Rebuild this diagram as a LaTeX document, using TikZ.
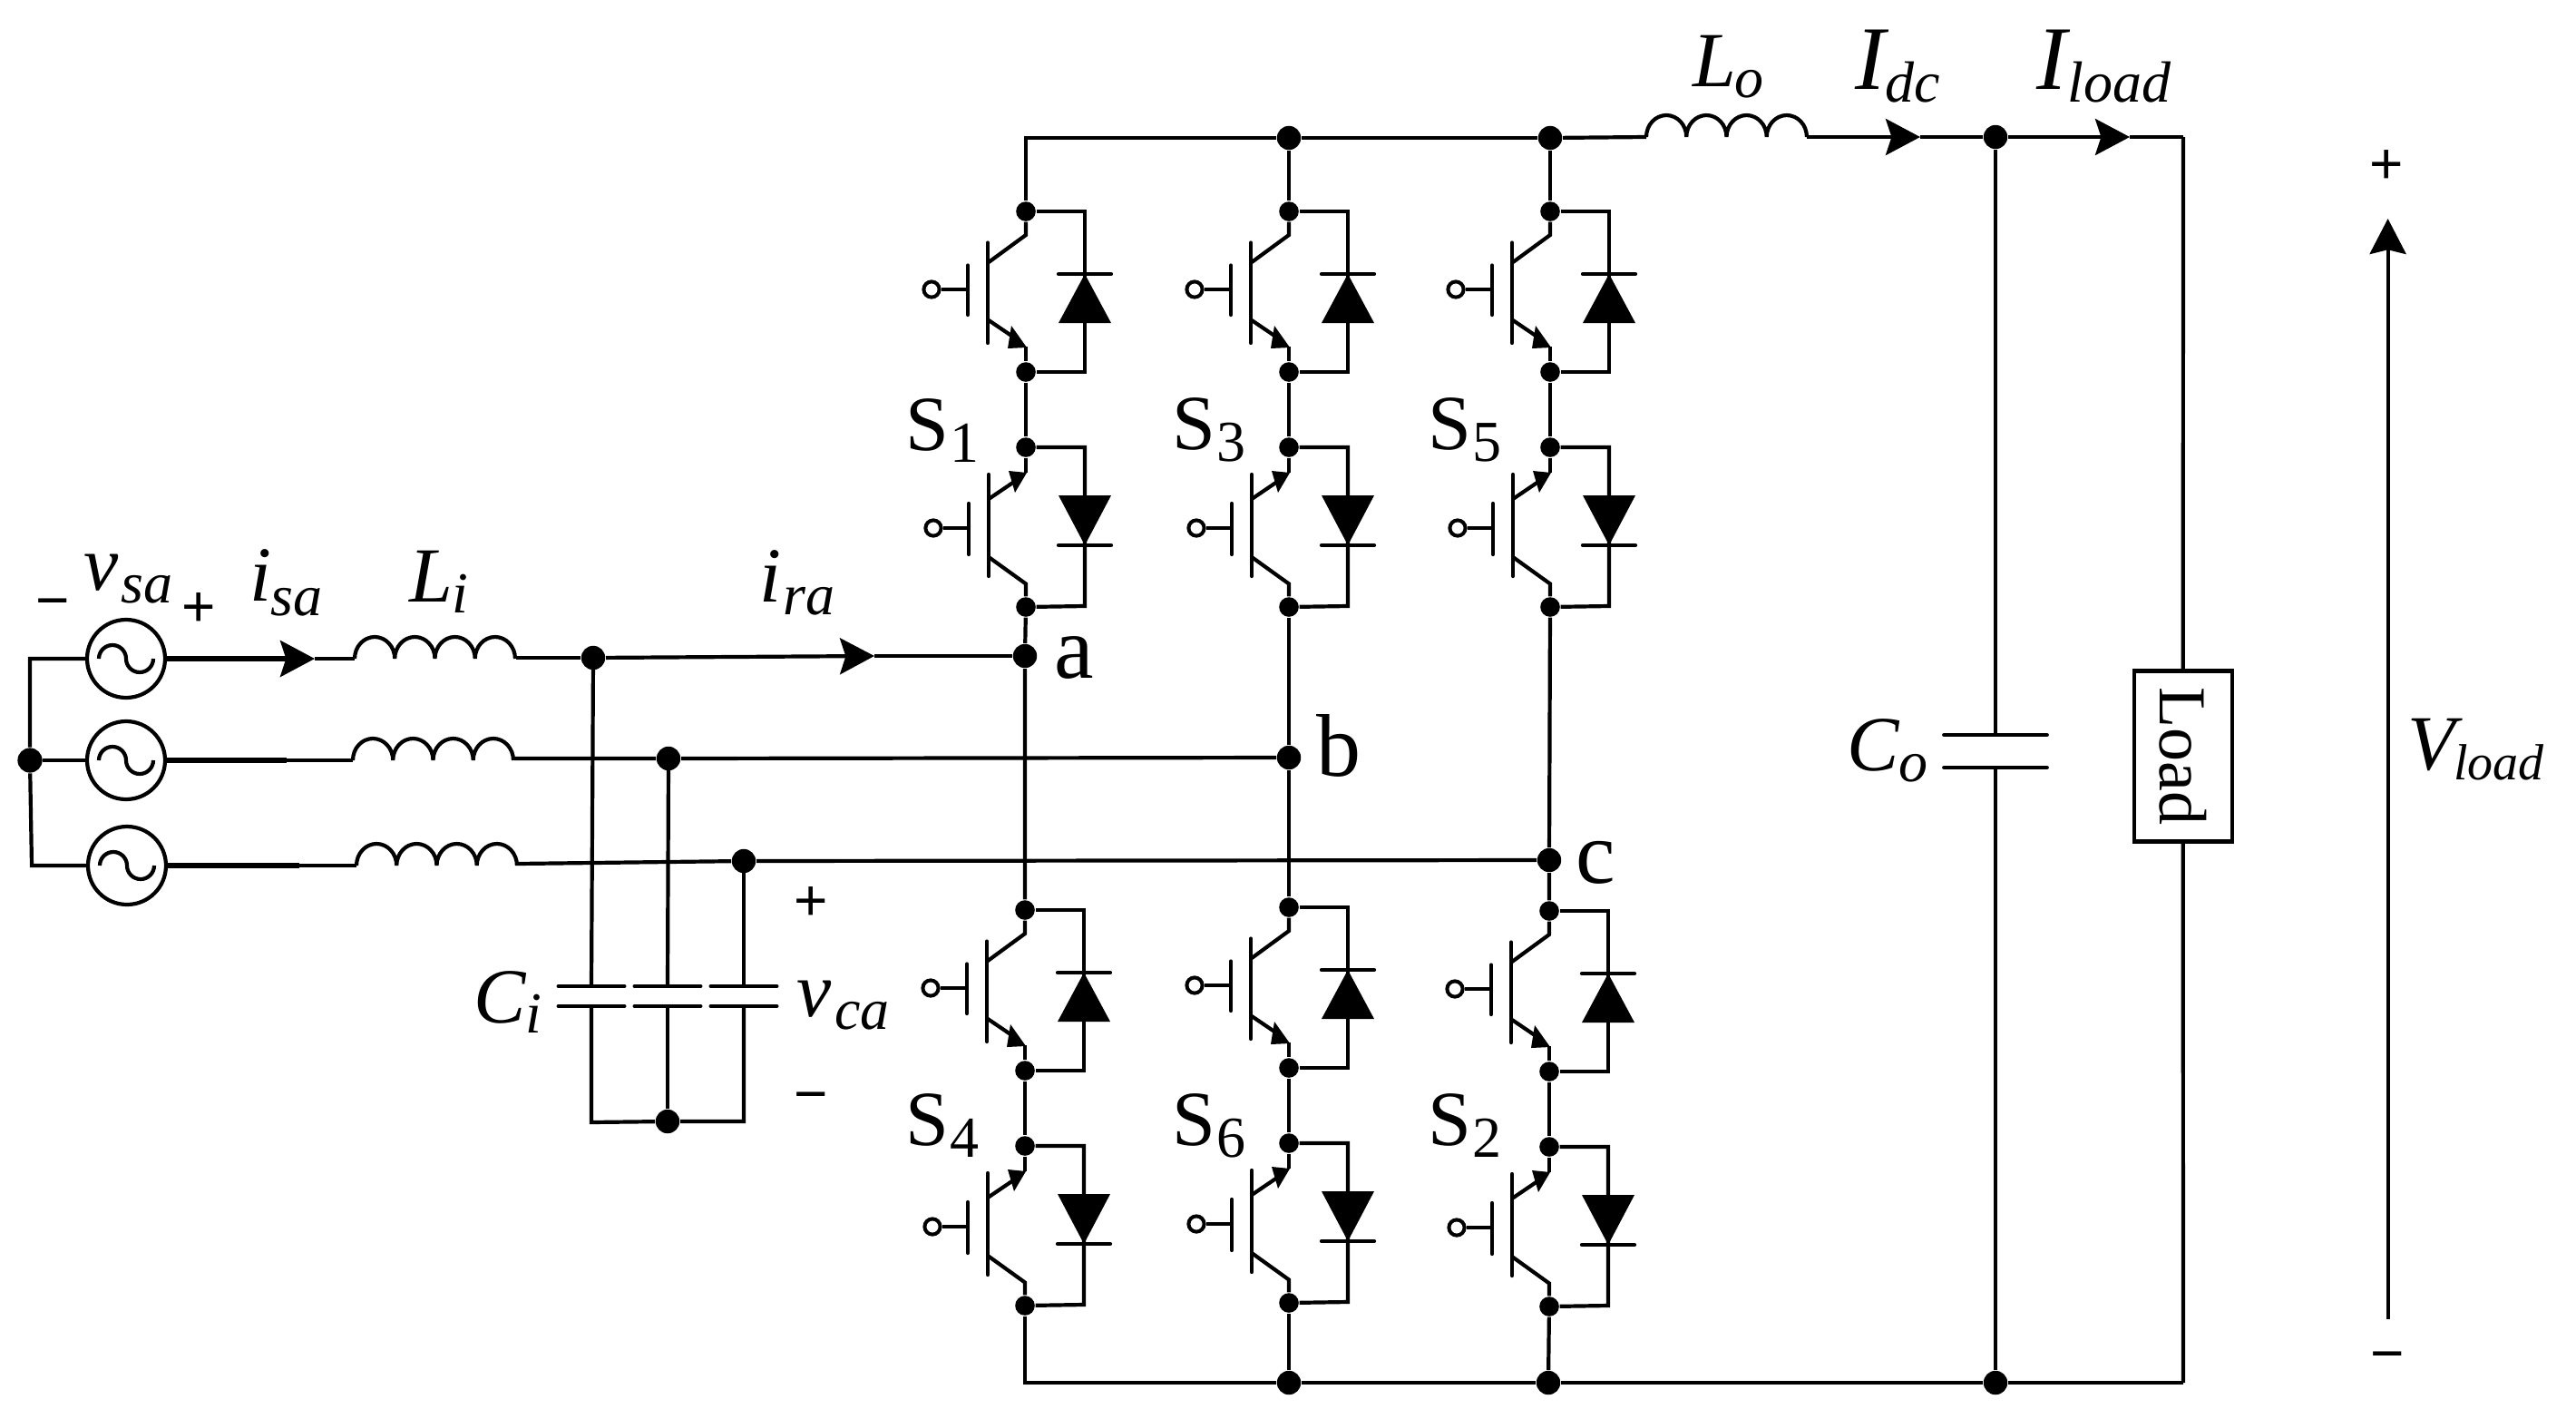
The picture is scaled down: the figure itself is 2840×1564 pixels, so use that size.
\documentclass[tikz,border=0pt]{standalone}
\usepackage{fontspec}
\setmainfont{Liberation Serif}
\newfontfamily\signfont{Liberation Sans}
\usetikzlibrary{arrows.meta,calc}
% main letter, subscript, drop, kern
\newcommand{\ms}[4]{{\fontsize{21.5}{24}\selectfont #1}\hspace{#4}\raisebox{-#3}{\fontsize{16}{18}\selectfont #2}}
\newcommand{\coilarcs}{arc[start angle=180,end angle=0,x radius=5.53pt,y radius=6pt] arc[start angle=180,end angle=0,x radius=5.53pt,y radius=6pt] arc[start angle=180,end angle=0,x radius=5.53pt,y radius=6pt] arc[start angle=180,end angle=0,x radius=5.53pt,y radius=6pt]}
\tikzset{
  wire/.style={line width=1.05pt,line join=miter},
  thickwire/.style={line width=1.3pt},
  bar/.style={line width=1.05pt,line cap=round},
  dotsmall/.style={circle,fill=black,inner sep=0pt,minimum size=5.4pt},
  dotbig/.style={circle,fill=black,inner sep=0pt,minimum size=6.6pt},
  gatepin/.style={circle,draw=black,fill=white,line width=1pt,inner sep=0pt,minimum size=4.3pt},
  source/.style={circle,draw=black,line width=1.05pt,inner sep=0pt,minimum size=21.5pt},
  lab/.style={anchor=base west,inner sep=0pt,outer sep=0pt},
  sign/.style={inner sep=0pt,outer sep=0pt,font=\signfont\fontsize{16}{18}\selectfont},
  flow/.style={-{Stealth[length=9.5pt,width=10pt,inset=1.6pt]}},
  pics/igbtpair/.style={code={
    \node[dotsmall] (-a) at (0,0) {};
    \node[dotsmall] (-b) at (0,177) {};
    \node[dotsmall] (-c) at (0,260) {};
    \node[dotsmall] (-d) at (0,436) {};
    % upper switch
    \draw[wire] (-a) -- (0,26) -- (-41,56);
    \draw[bar] (-42,34.5) -- (-42,145);
    \draw[bar] (-64,59.5) -- (-64,114);
    \node[gatepin] (-g1) at (-104,86) {};
    \draw[wire] (-g1) -- (-64,86);
    \draw[wire] (-41,120) -- (-10,141);
    \fill (-16,126) -- (-20,151) -- (1,150) -- cycle;
    \draw[wire] (0,149) -- (-b);
    % upper diode
    \draw[wire] (-a) -- (65,0) -- (65,177) -- (-b);
    \fill (65,69) -- (94,123) -- (36,123) -- cycle;
    \draw[bar] (36,69) -- (94,69);
    % lower switch
    \draw[wire] (-c) -- (0,288);
    \fill (1,288) -- (-19,286) -- (-12,310) -- cycle;
    \draw[wire] (-10,296) -- (-41,317);
    \draw[bar] (-41,290) -- (-41,402);
    \draw[bar] (-63,322) -- (-63,378);
    \node[gatepin] (-g2) at (-102,349) {};
    \draw[wire] (-g2) -- (-63,349);
    \draw[wire] (-41,381) -- (0,410.5) -- (-d);
    % lower diode
    \draw[wire] (-c) -- (65,260) -- (65,435) -- (-d);
    \fill (36,313) -- (94,313) -- (65,368) -- cycle;
    \draw[bar] (36,368) -- (94,368);
  }}
}
\begin{document}
\begin{tikzpicture}[x=0.25pt,y=-0.25pt]
\useasboundingbox[fill=white] (0,0) rectangle (2840,1564);

% switch banks
\pic (s1) at (1131,233) {igbtpair};
\pic (s3) at (1421,233) {igbtpair};
\pic (s5) at (1709,233) {igbtpair};
\pic (s4) at (1130,1003) {igbtpair};
\pic (s6) at (1421,1000) {igbtpair};
\pic (s2) at (1708,1004) {igbtpair};

% junction dots
\node[dotbig] (top3) at (1421,152) {};
\node[dotbig] (top5) at (1709,152) {};
\node[dotbig] (bot6) at (1421,1524) {};
\node[dotbig] (bot2) at (1707,1524) {};
\node[dotbig] (topC) at (2200,151) {};
\node[dotbig] (botC) at (2200,1524) {};
\node[dotbig] (na) at (1130,723) {};
\node[dotbig] (nb) at (1421,835) {};
\node[dotbig] (nc) at (1708,948) {};
\node[dotbig] (n1) at (654,725) {};
\node[dotbig] (n2) at (737,836) {};
\node[dotbig] (n3) at (820,949) {};
\node[dotbig] (rail) at (736,1236) {};
\node[dotbig,minimum size=6.8pt] (star) at (33,838) {};

\coordinate (busTL) at (1131,152);
\coordinate (busBL) at (1130,1524);
\coordinate (busBR) at (2407,1524);
\coordinate (busTR) at (2407,151);

% sources
\node[source] (v1) at (139,726) {};
\node[source] (v2) at (139,838) {};
\node[source] (v3) at (140,954) {};
\foreach \v in {v1,v2,v3}
  \draw[wire,shift={(\v.center)}] (-30,0) arc[start angle=180,end angle=0,radius=3.75pt] arc[start angle=180,end angle=360,radius=3.75pt];
\coordinate (sL1) at (33,726);
\coordinate (sL3) at (35,954);
\draw[wire] (v1) -- (sL1) -- (star) -- (sL3) -- (v3);
\draw[wire] (star) -- (v2);

% line a
\coordinate (A1) at (347,726);
\coordinate (L1a) at (391,726);
\coordinate (L1b) at (569,725);
\coordinate (A2) at (964,723);
\draw[thickwire,flow] (v1) -- (A1);
\draw[wire] (A1) -- (L1a);
\draw[wire] (L1a) \coilarcs;
\draw[wire] (L1b) -- (n1);
\draw[wire,flow] (n1) -- (A2);
\draw[wire] (A2) -- (na);

% line b
\coordinate (W2) at (316,838);
\coordinate (L2a) at (389,838);
\coordinate (L2b) at (567,836);
\draw[thickwire] (v2) -- (W2);
\draw[wire] (W2) -- (L2a);
\draw[wire] (L2a) \coilarcs;
\draw[wire] (L2b) -- (n2) -- (nb);

% line c
\coordinate (W3) at (330,954);
\coordinate (L3a) at (393,954);
\coordinate (L3b) at (570.5,952);
\draw[thickwire] (v3) -- (W3);
\draw[wire] (W3) -- (L3a);
\draw[wire] (L3a) \coilarcs;
\draw[wire] (L3b) -- (n3) -- (nc);

% input capacitors
\coordinate (c1t) at (652,1087);
\coordinate (c1b) at (652,1109);
\coordinate (c2t) at (736,1087);
\coordinate (c2b) at (736,1109);
\coordinate (c3t) at (820,1087);
\coordinate (c3b) at (820,1109);
\coordinate (r1) at (652,1237);
\coordinate (r3) at (820,1236);
\draw[wire] (n1.center) -- (c1t);
\draw[wire] (n2.center) -- (c2t);
\draw[wire] (n3.center) -- (c3t);
\draw[wire] (c1b) -- (r1) -- (rail) -- (r3) -- (c3b);
\draw[wire] (c2b) -- (rail);
\foreach \c in {c1t,c1b,c2t,c2b,c3t,c3b}
  \draw[bar] ([xshift=-9.1pt]\c) -- ([xshift=9.1pt]\c);

% legs
\draw[wire] (s1-a) -- (busTL) -- (top3) -- (top5);
\draw[wire] (top3) -- (s3-a);
\draw[wire] (top5) -- (s5-a);
\draw[wire] (s1-b) -- (s1-c);
\draw[wire] (s3-b) -- (s3-c);
\draw[wire] (s5-b) -- (s5-c);
\draw[wire] (s4-b) -- (s4-c);
\draw[wire] (s6-b) -- (s6-c);
\draw[wire] (s2-b) -- (s2-c);
\draw[wire] (s1-d) -- (na) -- (s4-a);
\draw[wire] (s3-d) -- (nb) -- (s6-a);
\draw[wire] (s5-d) -- (nc) -- (s2-a);
\draw[wire] (s4-d) -- (busBL) -- (bot6) -- (bot2) -- (botC) -- (busBR) ;
\draw[wire] (s6-d) -- (bot6);
\draw[wire] (s2-d) -- (bot2);

% output side
\coordinate (Loa) at (1815,151);
\coordinate (Lob) at (1991.5,151);
\coordinate (A3) at (2117,151);
\coordinate (A4) at (2348,151);
\draw[wire] (top5) -- (Loa);
\draw[wire] (Loa) \coilarcs;
\draw[wire,flow] (Lob) -- (A3);
\draw[wire] (A3) -- (topC);
\draw[wire,flow] (topC) -- (A4);
\draw[wire] (A4) -- (busTR);

% output capacitor
\coordinate (cot) at (2200,810);
\coordinate (cob) at (2200,846);
\draw[wire] (topC) -- (cot);
\draw[wire] (cob) -- (botC);
\draw[bar] ([xshift=-14.2pt]cot) -- ([xshift=14.2pt]cot);
\draw[bar] ([xshift=-14.2pt]cob) -- ([xshift=14.2pt]cob);

% load
\node[draw=black,line width=1.05pt,rotate=-90,minimum width=47pt,minimum height=27pt,inner sep=0pt,font=\fontsize{18.5}{20}\selectfont] (load) at (2406.7,833.5) {Load};
\draw[wire] (busTR) -- (load.west);
\draw[wire] (load.east) -- (busBR);

% voltage arrow
\coordinate (vt) at (2632.6,241);
\coordinate (vb) at (2632.6,1454);
\draw[wire,-{Stealth[length=9.75pt,width=10pt,inset=1.2pt]}] (vb) -- (vt);

% signs
\node[sign] (p1) at (219,672) {+};
\node[sign] (m1) at (58,672) {−};
\node[sign] (p2) at (894,996) {+};
\node[sign] (m2) at (894,1216) {−};
\node[sign] (p3) at (2631,184) {+};
\node[sign] (m3) at (2632.5,1502) {−};

% labels
\node[lab] (tvsa) at (93,650) {\ms{\itshape v}{\itshape sa}{3.5pt}{0.7pt}};
\node[lab] (tisa) at (275,662) {\ms{\itshape i}{\itshape sa}{4.2pt}{0pt}};
\node[lab] (tLi) at (451,663) {\ms{\itshape L}{\itshape i}{3pt}{0pt}};
\node[lab] (tira) at (837,663) {\ms{\itshape i}{\itshape ra}{3.5pt}{0.7pt}};
\node[lab] (tCi) at (522,1127) {\ms{\itshape C}{\itshape i}{2.8pt}{0pt}};
\node[lab] (tvca) at (878,1120.5) {\ms{\itshape v}{\itshape ca}{3.6pt}{1pt}};
\node[lab] (tLo) at (1866.5,95) {\ms{\itshape L}{\itshape o}{3pt}{-0.4pt}};
\node[lab] (tIdc) at (2045,98) {\ms{\fontsize{25}{26}\selectfont\itshape I}{\itshape dc}{3.5pt}{0pt}};
\node[lab] (tIl) at (2245,98) {\ms{\fontsize{25}{26}\selectfont\itshape I}{\itshape load}{3.5pt}{0.4pt}};
\node[lab] (tCo) at (2036,849) {\ms{\itshape C}{\itshape o}{3.2pt}{0pt}};
\node[lab] (tVl) at (2654,848) {\ms{\itshape V}{\fontsize{14}{16}\selectfont\itshape load}{2.8pt}{-0.3pt}};
\node[lab] (tS1) at (998,496) {\ms{S}{1}{3.3pt}{0.5pt}};
\node[lab] (tS3) at (1292,495) {\ms{S}{3}{3.3pt}{0.5pt}};
\node[lab] (tS5) at (1574,495) {\ms{S}{5}{3.3pt}{0.5pt}};
\node[lab] (tS4) at (998,1262) {\ms{S}{4}{3.3pt}{0.5pt}};
\node[lab] (tS6) at (1292,1262) {\ms{S}{6}{3.3pt}{0.5pt}};
\node[lab] (tS2) at (1574,1262) {\ms{S}{2}{3.3pt}{0.5pt}};
\node[lab,font=\fontsize{24.5}{26}\selectfont] (ta) at (1162,747) {a};
\node[lab,font=\fontsize{24.5}{26}\selectfont] (tb) at (1451,855) {b};
\node[lab,font=\fontsize{24.5}{26}\selectfont] (tc) at (1737,973) {c};
\end{tikzpicture}
\end{document}
